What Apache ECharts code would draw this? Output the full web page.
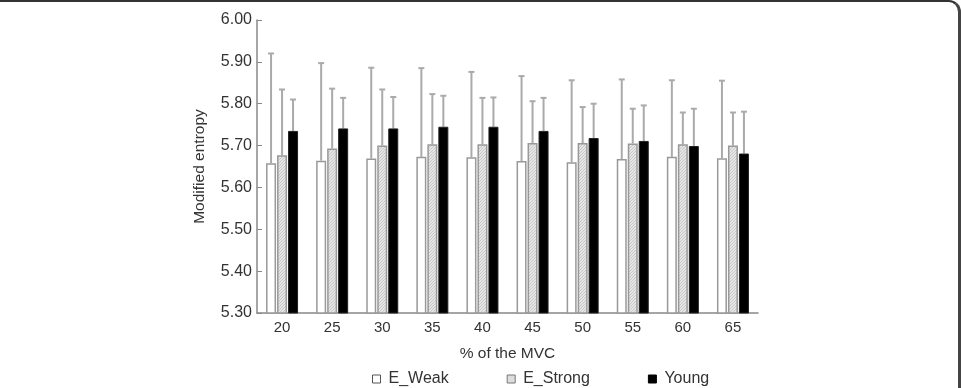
<!DOCTYPE html>
<html>
<head>
<meta charset="utf-8">
<script src="https://cdn.jsdelivr.net/npm/echarts@6/dist/echarts.min.js"></script>
<style>
  html, body { margin: 0; padding: 0; background: #fff; }
  #main { position: absolute; left: 0; top: 0; width: 961px; height: 388px; }
  #frame {
    position: absolute; left: 0; top: 0; width: 961px; height: 420px;
    box-sizing: border-box;
    border-top: 2px solid #333; border-right: 3px solid #444;
    border-top-right-radius: 12px; pointer-events: none;
  }
</style>
</head>
<body>
<div id="main"></div>
<div id="frame"></div>
<script>
// 数据
var categories = ['20', '25', '30', '35', '40', '45', '50', '55', '60', '65'];
var weakMean   = [5.658, 5.664, 5.669, 5.673, 5.672, 5.663, 5.660, 5.668, 5.673, 5.670];
var weakUpper  = [5.920, 5.897, 5.886, 5.885, 5.876, 5.866, 5.856, 5.858, 5.856, 5.855];
var strongMean  = [5.677, 5.693, 5.700, 5.703, 5.703, 5.706, 5.706, 5.705, 5.703, 5.700];
var strongUpper = [5.834, 5.836, 5.834, 5.823, 5.814, 5.806, 5.792, 5.788, 5.779, 5.779];
var youngMean  = [5.735, 5.741, 5.741, 5.745, 5.745, 5.735, 5.718, 5.711, 5.699, 5.681];
var youngUpper = [5.810, 5.814, 5.816, 5.819, 5.815, 5.814, 5.800, 5.796, 5.788, 5.781];
var yTicks = [5.30, 5.40, 5.50, 5.60, 5.70, 5.80, 5.90, 6.00];

// 点状填充
function makeDots() {
  var c = document.createElement('canvas');
  c.width = 3; c.height = 3;
  var ctx = c.getContext('2d');
  ctx.fillStyle = '#e6e6e6';
  ctx.fillRect(0, 0, 3, 3);
  ctx.fillStyle = '#c8c8c8';
  ctx.fillRect(0, 0, 1, 1);
  ctx.fillRect(2, 1, 1, 1);
  ctx.fillRect(1, 2, 1, 1);
  return c;
}
var dots = { image: makeDots(), repeat: 'repeat' };

// 误差线
function errData(mean, upper) {
  return mean.map(function (m, i) { return [i, m, upper[i]]; });
}
function errSeries(name, mean, upper, offset) {
  return {
    type: 'custom',
    name: name + '_err',
    z: 1,
    data: errData(mean, upper),
    renderItem: function (params, api) {
      var p0 = api.coord([api.value(0), api.value(1)]);
      var p1 = api.coord([api.value(0), api.value(2)]);
      var x = p0[0] + offset;
      var st = { stroke: '#aaaaaa', lineWidth: 2 };
      return {
        type: 'group',
        children: [
          { type: 'line', shape: { x1: x, y1: p0[1], x2: x, y2: p1[1] }, style: st },
          { type: 'line', shape: { x1: x - 3, y1: p1[1], x2: x + 3, y2: p1[1] }, style: st }
        ]
      };
    }
  };
}

var myChart = echarts.init(document.getElementById('main'));
var txt = '#333';
var font = 'Liberation Sans';

var option = {
  animation: false,
  textStyle: { fontFamily: font },
  grid: { left: 257, right: 203, top: 20, bottom: 75 },
  legend: {
    left: 367, top: 366,
    itemWidth: 8, itemHeight: 8, itemGap: 58,
    textStyle: { fontSize: 16, color: txt, fontFamily: font, padding: [0, 0, 0, 3] },
    data: [
      { name: 'E_Weak', icon: 'rect', itemStyle: { color: '#fff', borderColor: '#555', borderWidth: 1 } },
      { name: 'E_Strong', icon: 'rect', itemStyle: { color: '#ddd', borderColor: '#777', borderWidth: 1 } },
      { name: 'Young', icon: 'rect', itemStyle: { color: '#000', borderColor: '#000', borderWidth: 1 } }
    ]
  },
  xAxis: {
    type: 'category',
    data: categories,
    name: '% of the MVC',
    nameLocation: 'middle',
    nameGap: 33,
    nameTextStyle: { fontSize: 15.5, color: txt, fontFamily: font },
    axisLine: { lineStyle: { color: '#888', width: 1.5 } },
    axisTick: { show: false },
    axisLabel: { fontSize: 15, color: txt, margin: 7 }
  },
  yAxis: {
    type: 'value',
    min: yTicks[0], max: yTicks[yTicks.length - 1], interval: 0.1,
    name: 'Modified entropy',
    nameLocation: 'middle',
    nameGap: 49,
    nameTextStyle: { fontSize: 15.5, color: txt, fontFamily: font },
    axisLine: { show: true, lineStyle: { color: '#888', width: 1.5 } },
    axisTick: { show: true, inside: true, length: 5, lineStyle: { color: '#888' } },
    splitLine: { show: false },
    axisLabel: {
      fontSize: 16, color: txt, margin: 5,
      formatter: function (v) { return v.toFixed(2); }
    }
  },
  series: [
    {
      name: 'E_Weak', type: 'bar', data: weakMean, barWidth: 10, barGap: '10%', z: 2,
      itemStyle: { color: '#fff', borderColor: '#999', borderWidth: 1.5 }
    },
    {
      name: 'E_Strong', type: 'bar', data: strongMean, barWidth: 10, barGap: '10%', z: 2,
      itemStyle: { color: dots, borderColor: '#999', borderWidth: 1.5 }
    },
    {
      name: 'Young', type: 'bar', data: youngMean, barWidth: 10, barGap: '10%', z: 2,
      itemStyle: { color: '#000', borderColor: '#222', borderWidth: 1 }
    },
    errSeries('E_Weak', weakMean, weakUpper, -11),
    errSeries('E_Strong', strongMean, strongUpper, 0),
    errSeries('Young', youngMean, youngUpper, 11)
  ]
};
myChart.setOption(option);
</script>
</body>
</html>
